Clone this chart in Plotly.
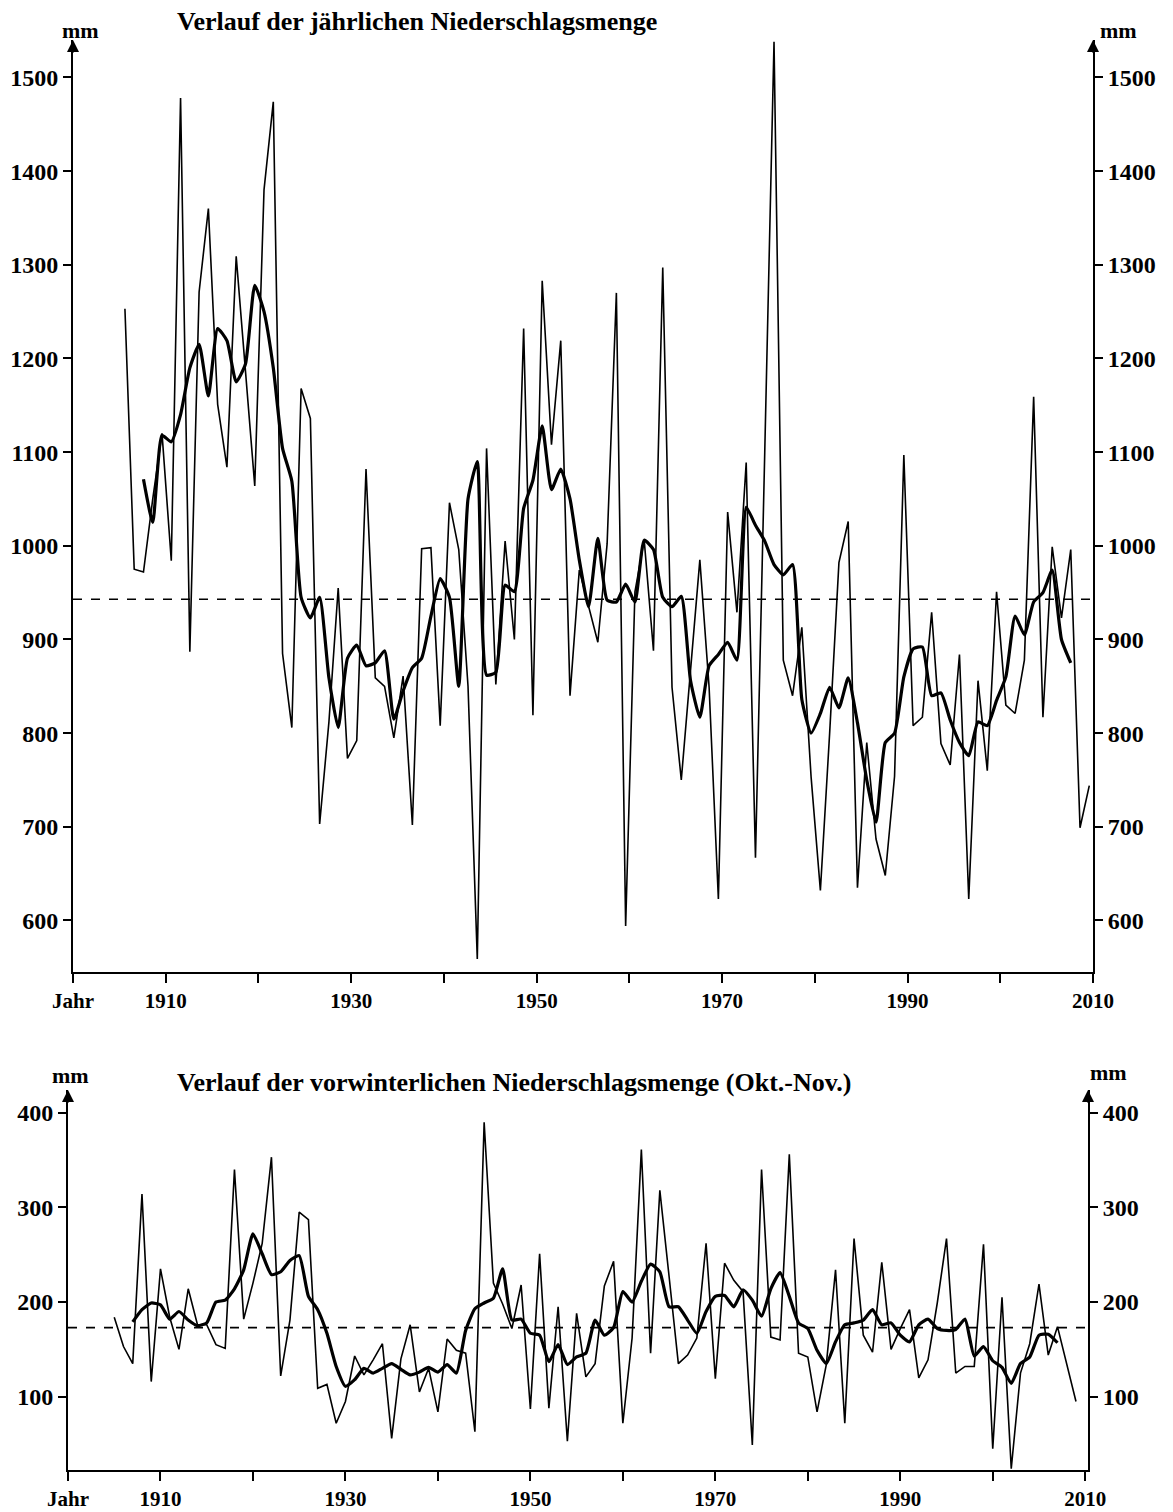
import plotly.graph_objects as go

# ---------------- data ----------------
years = list(range(1905, 2010))
annual_mm = [
    1253, 975, 972, 1050, 1120, 984, 1478, 887, 1271, 1360,
    1151, 1084, 1309, 1190, 1064, 1380, 1474, 885, 806, 1168,
    1136, 703, 812, 955, 773, 792, 1082, 859, 850, 795,
    861, 702, 997, 998, 808, 1046, 996, 850, 559, 1104,
    852, 1005, 900, 1232, 819, 1283, 1108, 1219, 840, 974,
    935, 897, 1002, 1270, 594, 951, 1006, 888, 1297, 849,
    750, 870, 985, 849, 623, 1036, 929, 1089, 667, 1100,
    1538, 878, 840, 913, 753, 632, 800, 982, 1026, 635,
    790, 687, 648, 754, 1097, 808, 817, 929, 789, 766,
    884, 623, 856, 760, 951, 830, 821, 878, 1159, 817,
    999, 923, 996, 699, 744,
]
smooth_years = list(range(1907, 2008))
annual_smooth_mm = [
    1071, 1025, 1118, 1111, 1140, 1190, 1215, 1160, 1232, 1219,
    1175, 1194, 1278, 1250, 1190, 1104, 1069, 945, 923, 945,
    859, 806, 880, 894, 872, 875, 888, 815, 845, 870,
    880, 925, 965, 945, 850, 1050, 1090, 862, 865, 958,
    951, 1040, 1070, 1128, 1060, 1082, 1050, 985, 935, 1008,
    942, 940, 959, 940, 1006, 996, 945, 935, 946, 856,
    817, 872, 884, 897, 878, 1041, 1022, 1005, 980, 969,
    980, 836, 800, 821, 849, 827, 859, 811, 750, 705,
    790, 800, 860, 890, 892, 840, 843, 814, 790, 776,
    812, 808, 835, 860, 925, 905, 940, 950, 974, 900,
    875,
]
autumn_mm = [
    184, 153, 135, 314, 116, 235, 184, 150, 214, 176,
    176, 155, 151, 340, 182, 220, 262, 353, 122, 181,
    295, 287, 109, 113, 72, 95, 143, 123, 139, 156,
    56, 140, 176, 105, 130, 84, 161, 149, 146, 63,
    390, 220, 198, 172, 218, 87, 251, 88, 195, 53,
    188, 121, 135, 217, 243, 72, 162, 361, 146, 318,
    227, 135, 144, 162, 262, 119, 241, 223, 211, 49,
    340, 163, 160, 356, 146, 142, 84, 134, 234, 72,
    267, 165, 147, 242, 150, 172, 192, 120, 139, 199,
    267, 125, 132, 132, 261, 45, 205, 24, 125, 156,
    219, 144, 174, 135, 95,
]
autumn_smooth_mm = [
    179, 192, 199, 197, 182, 190, 181, 175, 178, 200,
    202, 214, 234, 272, 251, 229, 232, 244, 249, 206,
    192, 167, 132, 111, 118, 130, 125, 130, 135, 129,
    123, 126, 131, 126, 134, 125, 170, 193, 199, 204,
    235, 181, 182, 167, 165, 137, 155, 134, 142, 146,
    181, 165, 173, 211, 200, 222, 240, 232, 195, 195,
    181, 167, 190, 206, 207, 195, 213, 202, 185, 214,
    231, 206, 178, 172, 149, 135, 158, 176, 178, 181,
    192, 176, 178, 165, 158, 176, 182, 172, 170, 171,
    182, 143, 153, 138, 131, 114, 135, 142, 165, 166,
    157,
]
annual_mean = 943
autumn_mean = 173

x_tick_vals = list(range(1900, 2011, 10))
x_tick_text = ["Jahr", "1910", "", "1930", "", "1950", "", "1970", "", "1990", "", "2010"]
top_y_ticks = [600, 700, 800, 900, 1000, 1100, 1200, 1300, 1400, 1500]
bottom_y_ticks = [100, 200, 300, 400]

title_top = "Verlauf der jährlichen Niederschlagsmenge"
title_bottom = "Verlauf der vorwinterlichen Niederschlagsmenge (Okt.-Nov.)"
unit = "mm"

# ---------------- layout helpers ----------------
PAGE_W, PAGE_H = 1173, 1512
BODY = 8  # default page margin of the html body
W, H = PAGE_W - BODY, PAGE_H - BODY
FONT = "Liberation Serif"
MID = 0.6  # top chart values are plotted mid-year


def fx(p):
    """page pixel x -> paper fraction"""
    return (p - BODY) / W


def fy(p):
    """page pixel y (from top) -> paper fraction"""
    return 1 - (p - BODY) / H


annual_x = [y + MID for y in years]
annual_smooth_x = [y + MID for y in smooth_years]

fig = go.Figure()

thin = dict(color="black", width=1.6)
thick = dict(color="black", width=3.2, shape="spline", smoothing=0.5)

fig.add_trace(go.Scatter(x=annual_x, y=annual_mm, mode="lines", line=thin,
                         xaxis="x", yaxis="y", showlegend=False))
fig.add_trace(go.Scatter(x=annual_smooth_x, y=annual_smooth_mm, mode="lines",
                         line=thick, xaxis="x", yaxis="y", showlegend=False))
fig.add_trace(go.Scatter(x=years, y=autumn_mm, mode="lines", line=thin,
                         xaxis="x2", yaxis="y2", showlegend=False))
fig.add_trace(go.Scatter(x=smooth_years, y=autumn_smooth_mm, mode="lines",
                         line=thick, xaxis="x2", yaxis="y2", showlegend=False))
# invisible traces so that the right-hand axes are drawn
fig.add_trace(go.Scatter(x=[], y=[], xaxis="x", yaxis="y3", showlegend=False))
fig.add_trace(go.Scatter(x=[], y=[], xaxis="x2", yaxis="y4", showlegend=False))

ytickfont = dict(family=FONT, size=24, color="black", weight="bold")
xtickfont = dict(family=FONT, size=21, color="black", weight="bold")

top_range = [545, 1540]
bot_range = [22.6, 424]

xaxis_common = dict(
    tickmode="array", tickvals=x_tick_vals, ticktext=x_tick_text,
    ticks="outside", ticklen=9, tickwidth=1.5, tickcolor="black",
    showline=True, linecolor="black", linewidth=2,
    showgrid=False, zeroline=False, tickfont=xtickfont, automargin=False,
)
yaxis_common = dict(
    ticks="outside", ticklen=8, tickwidth=1.5, tickcolor="black",
    showline=True, linecolor="black", linewidth=2,
    showgrid=False, zeroline=False, tickfont=ytickfont, automargin=False,
)

fig.update_layout(
    width=W, height=H,
    margin=dict(l=0, r=0, t=0, b=0, autoexpand=False),
    paper_bgcolor="white", plot_bgcolor="white",
    showlegend=False,
    xaxis=dict(xaxis_common, domain=[fx(73), fx(1093)], range=[1900, 2010],
               anchor="y"),
    yaxis=dict(yaxis_common, domain=[fy(972), fy(40)], range=top_range,
               tickvals=top_y_ticks, anchor="x"),
    yaxis3=dict(yaxis_common, range=top_range, tickvals=top_y_ticks,
                overlaying="y", side="right", anchor="x"),
    xaxis2=dict(xaxis_common, domain=[fx(68), fx(1088)], range=[1900, 2010.3],
                anchor="y2"),
    yaxis2=dict(yaxis_common, domain=[fy(1470), fy(1090)], range=bot_range,
                tickvals=bottom_y_ticks, anchor="x2"),
    yaxis4=dict(yaxis_common, range=bot_range, tickvals=bottom_y_ticks,
                overlaying="y2", side="right", anchor="x2"),
)

# mean lines
fig.add_shape(type="line", xref="x domain", yref="y", x0=0, x1=1,
              y0=annual_mean, y1=annual_mean,
              line=dict(color="black", width=1.6, dash="dash"))
fig.add_shape(type="line", xref="x2 domain", yref="y2", x0=0, x1=1,
              y0=autumn_mean, y1=autumn_mean,
              line=dict(color="black", width=1.6, dash="dash"))

title_font = dict(family=FONT, size=26, color="black", weight="bold")
unit_font = dict(family=FONT, size=22, color="black", weight="bold")

annotations = [
    dict(text=title_top, x=fx(175), y=fy(22), xref="paper", yref="paper",
         xanchor="left", yanchor="middle", showarrow=False, font=title_font),
    dict(text=title_bottom, x=fx(175), y=fy(1082), xref="paper", yref="paper",
         xanchor="left", yanchor="middle", showarrow=False, font=title_font),
    dict(text=unit, x=fx(80), y=fy(30), xref="paper", yref="paper",
         xanchor="center", yanchor="middle", showarrow=False, font=unit_font),
    dict(text=unit, x=fx(1118), y=fy(30), xref="paper", yref="paper",
         xanchor="center", yanchor="middle", showarrow=False, font=unit_font),
    dict(text=unit, x=fx(70), y=fy(1075), xref="paper", yref="paper",
         xanchor="center", yanchor="middle", showarrow=False, font=unit_font),
    dict(text=unit, x=fx(1108), y=fy(1072), xref="paper", yref="paper",
         xanchor="center", yanchor="middle", showarrow=False, font=unit_font),
]
# arrow heads at the tops of the value axes
for xr, yr, xpos in [("x domain", "y domain", 0), ("x domain", "y domain", 1),
                     ("x2 domain", "y2 domain", 0), ("x2 domain", "y2 domain", 1)]:
    annotations.append(dict(
        x=xpos, y=1.0, xref=xr, yref=yr, text="", showarrow=True,
        ax=0, ay=14, arrowhead=2, arrowsize=1.2, arrowwidth=2,
        arrowcolor="black"))

fig.update_layout(annotations=annotations)

fig.write_html("out.html")
